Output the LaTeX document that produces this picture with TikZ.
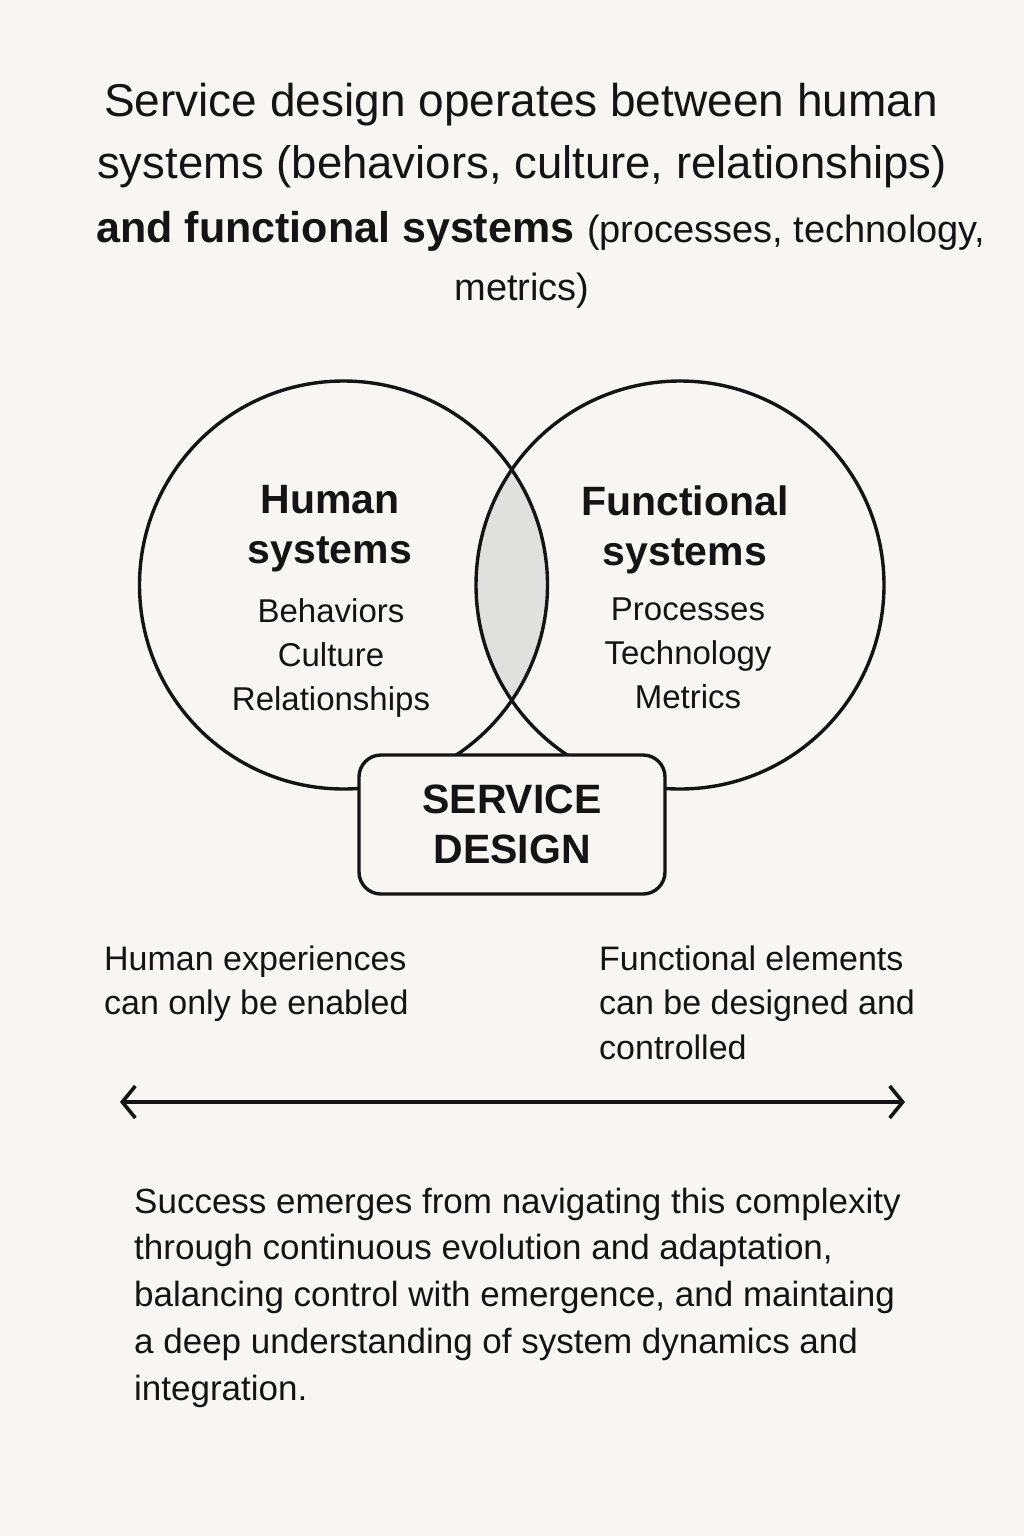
\documentclass[tikz,border=0pt]{standalone}
\usepackage{fontspec}
\setmainfont{Liberation Sans}
\usetikzlibrary{arrows.meta}
\definecolor{paper}{RGB}{247,246,242}
\definecolor{lensgray}{RGB}{224,224,222}
\definecolor{ink}{RGB}{20,20,20}
\newcommand{\fsize}[2]{\fontsize{#1}{#2}\selectfont}

\begin{document}
\begin{tikzpicture}[x=1pt,y=-1pt,
  every node/.style={inner sep=0pt,text=ink},
  titleline/.style={anchor=base,font=\fsize{45.5}{62}},
  systemcircle/.style={circle,draw=ink,line width=3.4pt,minimum size=408pt},
  headtext/.style={anchor=north,align=center,font=\fsize{41}{50}\bfseries},
  itemtext/.style={anchor=north,align=center,font=\fsize{33}{44}},
  sidetext/.style={anchor=north west,align=left,font=\fsize{34}{44.5}}]
\tikzstyle{servicebox}=[draw=ink,fill=paper,line width=3.4pt,rounded corners=22pt,
  minimum width=306pt,minimum height=139pt,align=center,font=\fsize{41}{50}\bfseries]
\useasboundingbox (0,0) rectangle (1024,1536);
\fill[paper] (0,0) rectangle (1024,1536);

\node[titleline,font=\fsize{46}{62}] (title1) at (521,117) {Service design operates between human};
\node[titleline] (title2) at (522,178) {systems (behaviors, culture, relationships)};
\node[titleline] (title3) at (541,242)
  {{\fsize{43}{62}\bfseries and functional systems} {\fsize{38}{62}(processes, technology,}};
\node[titleline,font=\fsize{38}{62}] (title4) at (522,300) {metrics)};

\begin{scope}
  \clip (343.5,585) circle (204);
  \fill[lensgray] (680,585) circle (204);
\end{scope}
\node[systemcircle] (human) at (343.5,585) {};
\node[systemcircle] (functional) at (680,585) {};

\node[headtext] (humanhead) at (330,485.5) {Human\\systems};
\node[itemtext] (humanitems) at (331,598) {Behaviors\\Culture\\Relationships};
\node[headtext] (functionalhead) at (685,485.5) {Functional\\systems};
\node[itemtext] (functionalitems) at (688,598) {Processes\\Technology\\Metrics};

\node[servicebox] (service) at (512,824.5) {SERVICE\\DESIGN};

\node[sidetext] (enabled) at (104,945.5) {Human experiences\\can only be enabled};
\node[sidetext] (controlled) at (599,945.5) {Functional elements\\can be designed and\\controlled};

\coordinate (leftend) at (120,1102);
\coordinate (rightend) at (905,1102);
\draw[ink,line width=3.6pt,{Straight Barb[length=13pt,width=32pt]}-{Straight Barb[length=13pt,width=32pt]}]
  (leftend) -- (rightend);

\node[anchor=north west,align=left,font=\fsize{35}{46.8}] (summary) at (134,1187.5)
  {Success emerges from navigating this complexity\\
   through continuous evolution and adaptation,\\
   balancing control with emergence, and maintaing\\
   a deep understanding of system dynamics and\\
   integration.};
\end{tikzpicture}
\end{document}
